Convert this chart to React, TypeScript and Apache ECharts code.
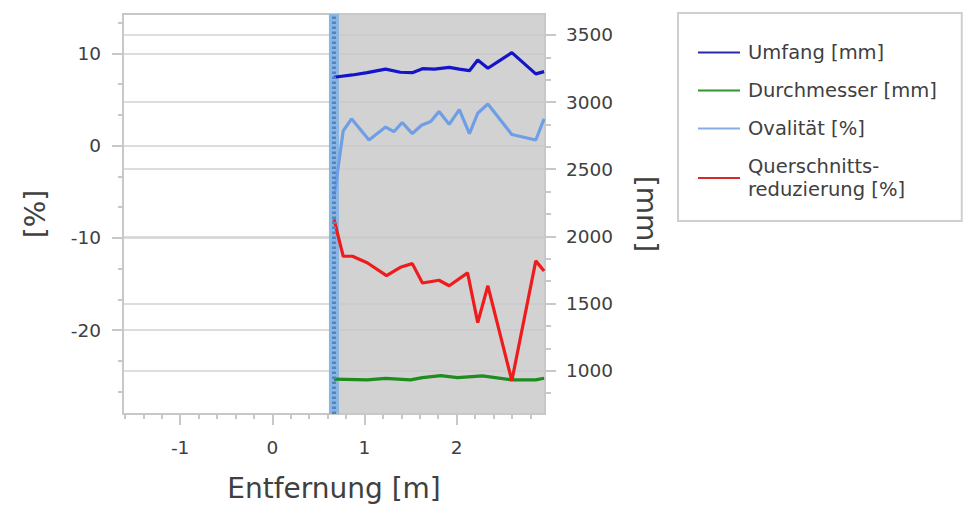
import React, { useEffect, useRef } from 'react';
import * as echarts from 'echarts';

// Axis ranges
const X_MIN = -1.62;
const X_MAX = 2.96;
const PCT_MIN = -29.1;
const PCT_MAX = 14.26;
const MM_MIN = 677;
const MM_MAX = 3656;

// Tick values / labels
const xMajorTicks = [-1, 0, 1, 2];
const xMinorTicks = [-1.6, -1.4, -1.2, -0.8, -0.6, -0.4, -0.2, 0.2, 0.4, 0.6, 0.8, 1.2, 1.4, 1.6, 1.8, 2.2, 2.4, 2.6, 2.8];
const pctMajorTicks = [-20, -10, 0, 10];
const pctMinorTicks = [-26.667, -23.333, -16.667, -13.333, -6.667, -3.333, 3.333, 6.667, 13.333];
const mmMajorTicks = [1000, 1500, 2000, 2500, 3000, 3500];
const mmMinorTicks = [833.33, 1166.67, 1333.33, 1666.67, 1833.33, 2166.67, 2333.33, 2666.67, 2833.33, 3166.67, 3333.33];

// Highlighted region
const bandStart = 0.615;
const bandEnd = 0.724;
const bandCenter = 0.67;
const shadeStart = 0.67;

// Series names
const seriesNames = ['Umfang [mm]', 'Durchmesser [mm]', 'Ovalität [%]', 'Querschnitts-\nreduzierung [%]'];

// Umfang [mm]
const umfangX = [0.67, 0.87, 1.03, 1.23, 1.39, 1.52, 1.63, 1.76, 1.92, 2.03, 2.14, 2.23, 2.34, 2.48, 2.60, 2.86, 2.95];
const umfangY = [3185, 3202, 3219, 3245, 3222, 3219, 3249, 3245, 3259, 3245, 3234, 3314, 3252, 3314, 3368, 3210, 3227];

// Durchmesser [mm]
const durchX = [0.67, 1.03, 1.23, 1.50, 1.63, 1.83, 2.01, 2.28, 2.60, 2.86, 2.95];
const durchY = [936, 931, 943, 931, 948, 963, 948, 961, 931, 931, 943];

// Ovalität [%]
const ovalX = [0.67, 0.77, 0.86, 1.05, 1.23, 1.32, 1.41, 1.52, 1.62, 1.72, 1.81, 1.92, 2.03, 2.14, 2.23, 2.34, 2.60, 2.86, 2.95];
const ovalY = [-5.6, 1.6, 2.9, 0.6, 2.0, 1.5, 2.5, 1.3, 2.2, 2.6, 3.7, 2.3, 3.9, 1.3, 3.5, 4.5, 1.2, 0.6, 2.9];

// Querschnittsreduzierung [%]
const querX = [0.67, 0.77, 0.87, 1.03, 1.24, 1.39, 1.52, 1.63, 1.81, 1.92, 2.12, 2.23, 2.34, 2.60, 2.86, 2.95];
const querY = [-8.0, -12.0, -12.0, -12.7, -14.1, -13.2, -12.8, -14.9, -14.6, -15.2, -13.8, -19.2, -15.2, -25.5, -12.5, -13.6];

const zip = (xs: number[], ys: number[]) => xs.map((x, i) => [x, ys[i]]);

const FONT = 'DejaVu Sans';
const AXIS_GRAY = '#c8c8c8';
const GRID_GRAY = '#d2d2d2';
const LABEL_COLOR = '#404040';

const seriesColors = ['#1414c8', '#1e8c1e', '#6e9fe6', '#ee1c1c'];
const legendColors = ['#2a2aa8', '#2f962f', '#86aee4', '#d42a2a'];

export default function App() {
  const ref = useRef<HTMLDivElement>(null);

  useEffect(() => {
    if (!ref.current) return;
    const chart = echarts.init(ref.current, null, { renderer: 'svg' });

    const tickLabel = { color: LABEL_COLOR, fontSize: 18.5, fontFamily: FONT };
    const nameStyle = { color: LABEL_COLOR, fontSize: 28, fontFamily: FONT };
    const axisLineStyle = { color: AXIS_GRAY, width: 2 };
    const plain = (v: number) => String(Math.round(v * 1000) / 1000);

    const option: any = {
      animation: false,
      backgroundColor: '#ffffff',
      textStyle: { fontFamily: FONT },
      grid: {
        left: 123,
        right: 421,
        top: 14,
        bottom: 95,
        show: true,
        borderColor: AXIS_GRAY,
        borderWidth: 2,
        backgroundColor: 'transparent',
        containLabel: false,
        outerBoundsMode: 'none',
      },
      legend: {
        orient: 'vertical',
        left: 678,
        top: 13,
        data: seriesNames.map((n, i) => ({
          name: n,
          icon: 'rect',
          itemStyle: { color: legendColors[i] },
        })),
        padding: [28, 25, 20, 20],
        itemGap: 15,
        itemWidth: 42,
        itemHeight: 2,
        backgroundColor: '#ffffff',
        borderColor: '#cfcfcf',
        borderWidth: 2,
        borderRadius: 0,
        textStyle: { color: LABEL_COLOR, fontSize: 19.5, lineHeight: 23, fontFamily: FONT, padding: [0, 0, 0, 3] },
        selectedMode: false,
      },
      xAxis: [
        {
          type: 'value',
          position: 'bottom',
          min: X_MIN,
          max: X_MAX,
          axisLine: { show: true, onZero: false, lineStyle: axisLineStyle },
          axisTick: { show: true, customValues: xMajorTicks, length: 11, lineStyle: axisLineStyle },
          axisLabel: { ...tickLabel, customValues: xMajorTicks, margin: 24, formatter: plain },
          splitLine: { show: false },
          name: 'Entfernung [m]',
          nameLocation: 'middle',
          nameGap: 60,
          nameTextStyle: nameStyle,
        },
        {
          type: 'value',
          position: 'bottom',
          min: X_MIN,
          max: X_MAX,
          axisLine: { show: false, onZero: false },
          axisTick: { show: true, customValues: xMinorTicks, length: 5, lineStyle: axisLineStyle },
          axisLabel: { show: false },
          splitLine: { show: false },
        },
      ],
      yAxis: [
        {
          type: 'value',
          position: 'left',
          min: PCT_MIN,
          max: PCT_MAX,
          axisLine: { show: true, onZero: false, lineStyle: axisLineStyle },
          axisTick: { show: true, customValues: pctMajorTicks, length: 11, lineStyle: axisLineStyle },
          axisLabel: { ...tickLabel, customValues: pctMajorTicks, margin: 22, formatter: plain },
          splitLine: { show: true, lineStyle: { color: GRID_GRAY, width: 1.5 } },
          name: '[%]',
          nameLocation: 'middle',
          nameGap: 74,
          nameRotate: 90,
          nameTextStyle: nameStyle,
        },
        {
          type: 'value',
          position: 'right',
          min: MM_MIN,
          max: MM_MAX,
          axisLine: { show: true, onZero: false, lineStyle: axisLineStyle },
          axisTick: { show: true, customValues: mmMajorTicks, length: 11, lineStyle: axisLineStyle },
          axisLabel: { ...tickLabel, customValues: mmMajorTicks, margin: 21, formatter: plain },
          splitLine: { show: true, lineStyle: { color: GRID_GRAY, width: 1.5 } },
          name: '[mm]',
          nameLocation: 'middle',
          nameGap: 87,
          nameRotate: -90,
          nameTextStyle: nameStyle,
        },
        {
          type: 'value',
          position: 'left',
          min: PCT_MIN,
          max: PCT_MAX,
          axisLine: { show: false, onZero: false },
          axisTick: { show: true, customValues: pctMinorTicks, length: 5, lineStyle: axisLineStyle },
          axisLabel: { show: false },
          splitLine: { show: false },
        },
        {
          type: 'value',
          position: 'right',
          min: MM_MIN,
          max: MM_MAX,
          axisLine: { show: false, onZero: false },
          axisTick: { show: true, customValues: mmMinorTicks, length: 6, lineStyle: axisLineStyle },
          axisLabel: { show: false },
          splitLine: { show: false },
        },
      ],
      series: [
        {
          type: 'line',
          name: 'shade',
          data: [],
          xAxisIndex: 0,
          yAxisIndex: 0,
          z: 1,
          silent: true,
          markArea: {
            silent: true,
            itemStyle: { color: 'rgba(200,200,200,0.82)' },
            data: [[{ xAxis: shadeStart }, { xAxis: X_MAX }]],
          },
        },
        {
          type: 'line',
          name: 'band',
          data: [],
          xAxisIndex: 0,
          yAxisIndex: 0,
          z: 2,
          silent: true,
          markArea: {
            silent: true,
            itemStyle: { color: '#8ab6e3' },
            data: [[{ xAxis: bandStart }, { xAxis: bandEnd }]],
          },
          markLine: {
            silent: true,
            symbol: ['none', 'none'],
            label: { show: false },
            lineStyle: { color: '#5384c2', width: 4, type: [2.5, 2.5] },
            data: [{ xAxis: bandCenter }],
          },
        },
        {
          type: 'line',
          name: seriesNames[0],
          xAxisIndex: 0,
          yAxisIndex: 1,
          z: 4,
          symbol: 'none',
          color: seriesColors[0],
          lineStyle: { width: 3.2, color: seriesColors[0] },
          data: zip(umfangX, umfangY),
        },
        {
          type: 'line',
          name: seriesNames[1],
          xAxisIndex: 0,
          yAxisIndex: 1,
          z: 4,
          symbol: 'none',
          color: seriesColors[1],
          lineStyle: { width: 3.2, color: seriesColors[1] },
          data: zip(durchX, durchY),
        },
        {
          type: 'line',
          name: seriesNames[2],
          xAxisIndex: 0,
          yAxisIndex: 0,
          z: 4,
          symbol: 'none',
          color: seriesColors[2],
          lineStyle: { width: 3.2, color: seriesColors[2] },
          data: zip(ovalX, ovalY),
        },
        {
          type: 'line',
          name: seriesNames[3],
          xAxisIndex: 0,
          yAxisIndex: 0,
          z: 4,
          symbol: 'none',
          color: seriesColors[3],
          lineStyle: { width: 3.2, color: seriesColors[3] },
          data: zip(querX, querY),
        },
      ],
    };

    chart.setOption(option);
    return () => chart.dispose();
  }, []);

  return (
    <div
      ref={ref}
      style={{ position: 'fixed', left: 0, top: 0, width: 966, height: 509, background: '#ffffff' }}
    />
  );
}
